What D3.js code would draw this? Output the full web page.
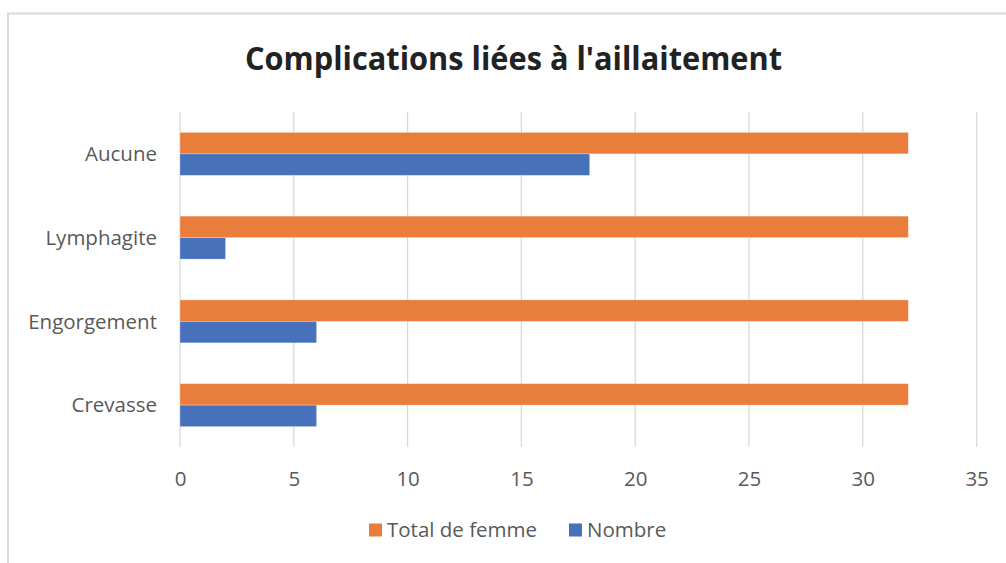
<!DOCTYPE html>
<html>
<head>
<meta charset="utf-8">
<script src="https://cdn.jsdelivr.net/npm/d3@7"></script>
<style>
  body { margin: 0; background: #fff; }
  svg { display: block; }
  text { font-family: "Open Sans", "Noto Sans", sans-serif; }
</style>
</head>
<body>
<svg id="chart" width="1006" height="563"></svg>
<script>
// categories listed top to bottom as they appear
var categories = ['Aucune', 'Lymphagite', 'Engorgement', 'Crevasse'];
var seriesNames = ['Total de femme', 'Nombre'];
var totalValues = [32, 32, 32, 32];
var nombreValues = [18, 2, 6, 6];
var xTicks = [0, 5, 10, 15, 20, 25, 30, 35];
var colors = ['#E97D3B', '#4771BA'];

var svg = d3.select('#chart');
var plot = { left: 180, right: 976.6, top: 112, bottom: 447 };
var labelSize = 20.5;

// chart frame (cut off on right and bottom in the screenshot)
svg.append('rect')
    .attr('x', 8).attr('y', 13.5)
    .attr('width', 1100).attr('height', 700)
    .attr('fill', 'none')
    .attr('stroke', '#d9d9d9')
    .attr('stroke-width', 2);

svg.append('text')
    .attr('x', 245).attr('y', 70)
    .attr('textLength', 537)
    .attr('lengthAdjust', 'spacingAndGlyphs')
    .attr('font-size', 32)
    .attr('font-weight', 'bold')
    .attr('fill', '#222')
    .text("Complications liées à l'aillaitement");

var x = d3.scaleLinear().domain([0, 35]).range([plot.left, plot.right]);
var y = d3.scaleBand().domain(categories).range([plot.top, plot.bottom])
    .paddingInner(0.487).paddingOuter(0.2435);
var sub = d3.scaleBand().domain(seriesNames).range([0, y.bandwidth()]);

// gridlines
svg.append('g').selectAll('line').data(xTicks).enter().append('line')
    .attr('x1', d => x(d)).attr('x2', d => x(d))
    .attr('y1', plot.top).attr('y2', plot.bottom)
    .attr('stroke', '#d9d9d9').attr('stroke-width', 1.3);

var rows = categories.map((c, i) => ({ cat: c, vals: [totalValues[i], nombreValues[i]] }));

var groups = svg.append('g').selectAll('g').data(rows).enter().append('g')
    .attr('transform', d => 'translate(0,' + y(d.cat) + ')');

groups.selectAll('rect')
    .data(d => d.vals.map((v, j) => ({ name: seriesNames[j], v: v, j: j })))
    .enter().append('rect')
    .attr('x', x(0))
    .attr('y', d => sub(d.name))
    .attr('width', d => x(d.v) - x(0))
    .attr('height', sub.bandwidth())
    .attr('fill', d => colors[d.j])
    .attr('stroke', '#fff')
    .attr('stroke-opacity', 0.35)
    .attr('stroke-width', 0.8);

// x tick labels
var xAxis = d3.axisBottom(x).tickValues(xTicks).tickSize(0).tickPadding(0);
var gx = svg.append('g').attr('transform', 'translate(0,' + plot.bottom + ')').call(xAxis);
gx.select('.domain').remove();
gx.selectAll('text')
    .attr('dy', null).attr('y', 38.5)
    .attr('font-size', labelSize)
    .attr('font-family', '"Open Sans", sans-serif')
    .attr('fill', '#595959');

// category labels
var yAxis = d3.axisLeft(y).tickSize(0).tickPadding(0);
var gy = svg.append('g').attr('transform', 'translate(157,0)').call(yAxis);
gy.select('.domain').remove();
gy.selectAll('text')
    .attr('dy', '0.35em')
    .attr('font-size', labelSize)
    .attr('font-family', '"Open Sans", sans-serif')
    .attr('fill', '#595959');

// legend
var legendX = [369, 569];
var legend = svg.append('g').selectAll('g').data(seriesNames).enter().append('g')
    .attr('transform', (d, i) => 'translate(' + legendX[i] + ',523.5)');
legend.append('rect')
    .attr('width', 13).attr('height', 13)
    .attr('fill', (d, i) => colors[i]);
legend.append('text')
    .attr('x', 18).attr('y', 6.5).attr('dy', '0.35em')
    .attr('font-size', labelSize)
    .attr('fill', '#595959')
    .text(d => d);
</script>
</body>
</html>
